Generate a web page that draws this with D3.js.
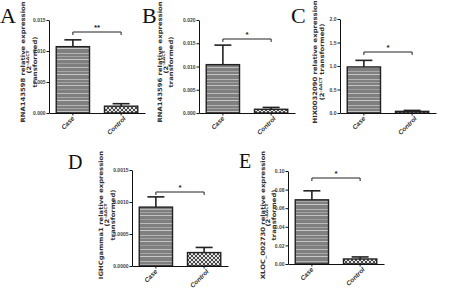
<!DOCTYPE html>
<html><head><meta charset="utf-8">
<script src="https://cdn.jsdelivr.net/npm/d3@7"></script>
<style>
html,body{margin:0;padding:0;background:#fff;}
svg{display:block;}
</style></head>
<body>
<svg id="chart" width="450" height="295"></svg>
<script>
// ---------- data ----------
const panelLetters = ["A", "B", "C", "D", "E"];
const genes = ["RNA143598", "RNA143596", "HIX0032090", "IGHCgamma1", "XLOC_002730"];
const categories = ["Case", "Control"];
const caseValues = [0.0107, 0.0104, 0.98, 0.00092, 0.069];
const caseSEM = [0.0011, 0.0042, 0.14, 0.00016, 0.0097];
const controlValues = [0.0011, 0.0008, 0.035, 0.00021, 0.0054];
const controlSEM = [0.0004, 0.0004, 0.02, 0.00008, 0.0022];
const yMax = [0.015, 0.020, 2.0, 0.0015, 0.10];
const tickValues = [
  [0, 0.005, 0.010, 0.015],
  [0, 0.005, 0.010, 0.015, 0.020],
  [0, 0.5, 1.0, 1.5, 2.0],
  [0, 0.0005, 0.0010, 0.0015],
  [0, 0.02, 0.04, 0.06, 0.08, 0.10]
];
const tickFormats = [".3f", ".3f", ".1f", ".4f", ".2f"];
const significance = ["**", "*", "*", "*", "*"];
const labelLines = [3, 3, 2, 3, 3];

// ---------- layout ----------
const layout = [
  {x0: 49,  yTop: 20,  yBot: 113, lx: 0,   ly: 23,  fs: 22, lab: [25, 31, 36.5], labY: 62, brY: 32},
  {x0: 199, yTop: 20,  yBot: 113, lx: 142, ly: 23,  fs: 22, lab: [162, 167.5, 173], labY: 62, brY: 39},
  {x0: 340, yTop: 19,  yBot: 113, lx: 291, ly: 23,  fs: 22, lab: [317, 324], labY: 62, brY: 52},
  {x0: 132, yTop: 170, yBot: 266, lx: 68,  ly: 169, fs: 20, lab: [103, 109, 114.5], labY: 215, brY: 192},
  {x0: 288, yTop: 171, yBot: 264, lx: 239, ly: 168, fs: 20, lab: [265, 270, 275.5], labY: 215, brY: 178}
];
const plotW = 96;

const svg = d3.select("#chart");
const defs = svg.append("defs");

// striped pattern for Case bars
const pc = defs.append("pattern").attr("id", "casePat")
  .attr("patternUnits", "userSpaceOnUse").attr("width", 6).attr("height", 26);
pc.append("rect").attr("width", 6).attr("height", 26).attr("fill", "#7f7f7f");
[[1, "#b5b5b5"], [4, "#a3a3a3"], [7, "#c4c4c4"], [11, "#9c9c9c"], [15, "#bdbdbd"], [19, "#a8a8a8"], [22, "#c8c8c8"]]
  .forEach(([y, c]) => pc.append("rect").attr("y", y).attr("width", 6).attr("height", 1).attr("fill", c));

// crosshatch pattern for Control bars
const pk = defs.append("pattern").attr("id", "ctrlPat")
  .attr("patternUnits", "userSpaceOnUse").attr("width", 4).attr("height", 4);
pk.append("rect").attr("width", 4).attr("height", 4).attr("fill", "#e4e4e4");
[[0,0],[1,1],[2,2],[3,3],[3,0],[2,1],[1,2],[0,3]].forEach(([x, y]) =>
  pk.append("rect").attr("x", x).attr("y", y).attr("width", 1).attr("height", 1).attr("fill", "#4a4a4a"));

panelLetters.forEach((letter, i) => {
  const L = layout[i];
  const g = svg.append("g");
  const x = d3.scaleBand().domain(categories).range([L.x0, L.x0 + plotW])
    .paddingInner(0.31).paddingOuter(0.15);
  const y = d3.scaleLinear().domain([0, yMax[i]]).range([L.yBot, L.yTop]);
  const vals = [caseValues[i], controlValues[i]];
  const sems = [caseSEM[i], controlSEM[i]];

  // panel letter
  g.append("text").attr("x", L.lx).attr("y", L.ly)
    .attr("font-family", "'Liberation Serif', 'Times New Roman', serif")
    .attr("font-size", L.fs).attr("fill", "#111").text(letter);

  // y axis
  const ya = g.append("g").attr("transform", `translate(${L.x0},0)`)
    .call(d3.axisLeft(y).tickValues(tickValues[i]).tickFormat(d3.format(tickFormats[i]))
      .tickSize(2.5).tickSizeOuter(0).tickPadding(1));
  ya.select(".domain").attr("stroke", "#111").attr("stroke-width", 1);
  ya.selectAll(".tick line").attr("stroke", "#111");
  ya.selectAll(".tick text").attr("font-family", "'Liberation Sans', Arial, sans-serif")
    .attr("font-size", 5).attr("font-weight", "bold").attr("fill", "#444");

  // error bars (upper only)
  categories.forEach((c, j) => {
    const cx = x(c) + x.bandwidth() / 2;
    const top = y(vals[j] + sems[j]);
    g.append("line").attr("x1", cx).attr("x2", cx).attr("y1", y(vals[j])).attr("y2", top)
      .attr("stroke", "#222").attr("stroke-width", 1.6);
    g.append("line").attr("x1", cx - 8.5).attr("x2", cx + 8.5).attr("y1", top).attr("y2", top)
      .attr("stroke", "#222").attr("stroke-width", 1.6);
  });

  // bars
  g.selectAll("rect.bar").data(categories).enter().append("rect").attr("class", "bar")
    .attr("x", c => x(c)).attr("width", x.bandwidth())
    .attr("y", (c, j) => y(vals[j])).attr("height", (c, j) => y(0) - y(vals[j]))
    .attr("fill", (c, j) => j === 0 ? "url(#casePat)" : "url(#ctrlPat)")
    .attr("stroke", "#222").attr("stroke-width", 1.4);

  // x axis
  const xa = g.append("g").attr("transform", `translate(0,${L.yBot})`)
    .call(d3.axisBottom(x).tickSize(2.5).tickSizeOuter(0).tickFormat(""));
  xa.select(".domain").attr("stroke", "#111").attr("stroke-width", 1);
  xa.selectAll(".tick line").attr("stroke", "#111");

  // rotated category labels
  categories.forEach((c, j) => {
    const cx = x(c) + x.bandwidth() / 2 + (j === 0 ? 2 : 5);
    g.append("text")
      .attr("transform", `translate(${cx},${L.yBot + 6}) rotate(-45)`)
      .attr("text-anchor", "end")
      .attr("font-family", "'Liberation Sans', Arial, sans-serif")
      .attr("font-size", 6.5).attr("font-weight", "bold").attr("font-style", "italic")
      .attr("fill", "#333").text(c);
  });

  // significance bracket
  const c1 = x(categories[0]) + x.bandwidth() / 2;
  const c2 = x(categories[1]) + x.bandwidth() / 2;
  g.append("path")
    .attr("d", `M${c1},${L.brY + 3}V${L.brY}H${c2}V${L.brY + 3}`)
    .attr("fill", "none").attr("stroke", "#222").attr("stroke-width", 1);
  g.append("text").attr("x", (c1 + c2) / 2).attr("y", L.brY - 2)
    .attr("text-anchor", "middle")
    .attr("font-family", "'Liberation Sans', Arial, sans-serif")
    .attr("font-size", 8).attr("font-weight", "bold").attr("fill", "#222")
    .text(significance[i]);

  // y-axis label (rotated, horizontally stretched like the original)
  const labG = g.append("g").attr("font-family", "'DejaVu Sans', Verdana, sans-serif")
    .attr("font-size", 6).attr("font-weight", "bold").attr("fill", "#333")
    .attr("text-anchor", "middle");
  const tf = (lx) => `translate(${lx},${L.labY}) rotate(-90) scale(1.14,1)`;
  labG.append("text").attr("transform", tf(L.lab[0])).text(genes[i] + " relative expression");
  const t2 = labG.append("text").attr("transform", tf(L.lab[1]));
  t2.append("tspan").text("(2");
  t2.append("tspan").attr("font-size", 4).attr("dy", -2.2).text("-ΔΔCT");
  if (labelLines[i] === 2) {
    t2.append("tspan").attr("dy", 2.2).text(" transformed)");
  } else {
    labG.append("text").attr("transform", tf(L.lab[2])).text("transformed)");
  }
});
</script>
</body></html>
